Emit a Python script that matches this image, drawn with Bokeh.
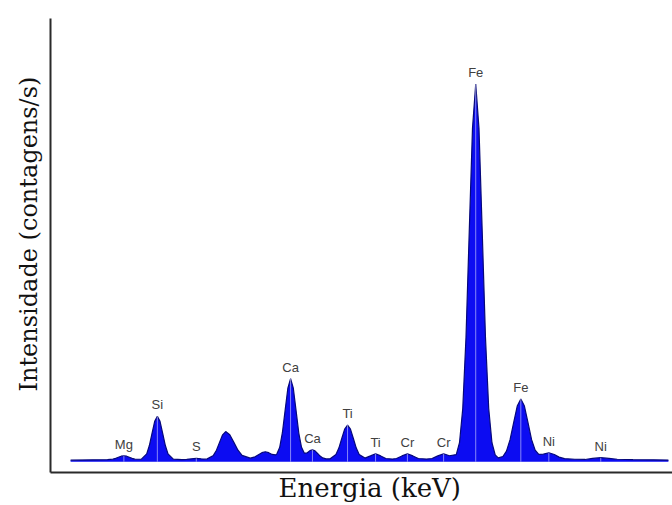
from bokeh.plotting import figure
from bokeh.models import Range1d, FixedTicker, ColumnDataSource
from bokeh.core.properties import value
from bokeh.embed import file_html
from bokeh.resources import INLINE

# Spectrum samples (energy in keV, intensity in counts/s)
energy = [0.47, 0.80, 1.01,
          1.09, 1.13, 1.17, 1.21, 1.25, 1.29, 1.33, 1.37, 1.41, 1.49,
          1.506, 1.584, 1.623, 1.662, 1.701, 1.74, 1.779, 1.818, 1.857, 1.896, 1.974, 2.10,
          2.17, 2.24, 2.31, 2.38, 2.45,
          2.47, 2.56, 2.605, 2.65, 2.695, 2.74, 2.80, 2.86, 2.92, 2.98, 3.10,
          3.17, 3.22, 3.27, 3.32, 3.37, 3.42, 3.47,
          3.49, 3.53, 3.57, 3.61, 3.65, 3.69, 3.73, 3.77, 3.81, 3.85, 3.89, 3.93,
          3.9725, 4.01, 4.0475, 4.085, 4.1225, 4.16, 4.21,
          4.269, 4.354, 4.3965, 4.439, 4.4815, 4.524, 4.5665, 4.609, 4.6515, 4.694, 4.779,
          4.859, 4.934, 5.009, 5.084, 5.18,
          5.24, 5.32, 5.40, 5.48, 5.56, 5.68,
          5.76, 5.845, 5.93, 6.015,
          6.115, 6.1625, 6.21, 6.2575, 6.305, 6.3525, 6.40, 6.4475, 6.495, 6.5425, 6.59, 6.6375, 6.685, 6.73,
          6.7975, 6.85, 6.9025, 6.955, 7.0075, 7.06, 7.1125, 7.165, 7.2175, 7.27, 7.3225,
          7.39, 7.47, 7.55, 7.62, 7.70, 7.85, 8.00,
          8.11, 8.23, 8.35, 8.47, 8.70, 9.00, 9.22]
counts = [15, 18, 20,
          25, 33, 44, 55, 60, 55, 44, 33, 25, 24,
          25, 79, 163, 287, 408, 460, 408, 287, 163, 79, 25, 21,
          23, 29, 34, 29, 25,
          28, 63, 116, 195, 272, 305, 272, 195, 116, 63, 35,
          49, 70, 91, 100, 91, 73, 68,
          79, 143, 293, 519, 744, 840, 744, 519, 290, 145, 87, 88,
          111, 120, 109, 83, 56, 38, 28,
          29, 72, 137, 234, 329, 370, 329, 234, 137, 72, 36,
          58, 80, 58, 32, 26,
          32, 58, 80, 58, 32, 26,
          32, 58, 80, 60,
          72, 192, 539, 1260, 2330, 3377, 3825, 3377, 2330, 1260, 539, 192, 68, 38,
          52, 107, 223, 395, 563, 635, 563, 395, 223, 116, 74,
          76, 90, 72, 46, 30, 24, 22,
          33, 40, 33, 24, 20, 18, 16]

# Labelled peaks
peak_label = ["Mg", "Si", "S", "Ca", "Ca", "Ti", "Ti", "Cr", "Cr", "Fe", "Fe", "Ni", "Ni"]
peak_energy = [1.25, 1.74, 2.31, 3.69, 4.01, 4.524, 4.934, 5.40, 5.93, 6.40, 7.06, 7.47, 8.23]
peak_count = [60, 460, 34, 840, 120, 370, 80, 80, 80, 3825, 635, 90, 40]

p = figure(width=672, height=505, output_backend="svg", toolbar_location=None,
           x_range=Range1d(0.176, 9.28), y_range=Range1d(-110, 4490),
           min_border_left=50, min_border_right=0, min_border_top=18, min_border_bottom=27)
p.outline_line_color = None
p.xgrid.visible = False
p.ygrid.visible = False
p.background_fill_color = "white"
p.border_fill_color = "white"

for ax in (p.xaxis[0], p.yaxis[0]):
    ax.ticker = FixedTicker(ticks=[])
    ax.major_tick_line_color = None
    ax.minor_tick_line_color = None
    ax.axis_line_color = "#2a2a2a"
    ax.axis_line_width = 2
    ax.axis_label_text_font = "DejaVu Serif"
    ax.axis_label_text_font_style = "normal"
    ax.axis_label_text_color = "#111111"

p.xaxis.axis_label = "\u00a0\u00a0Energia (keV)"
p.xaxis.axis_label_text_font_size = "26px"
p.xaxis.axis_label_standoff = 0
p.yaxis.axis_label = "\u00a0\u00a0\u00a0Intensidade (contagens/s)"
p.yaxis.axis_label_text_font_size = "24px"
p.yaxis.axis_label_standoff = 8

src = ColumnDataSource(dict(e=energy, c=counts))
p.varea(x="e", y1=0, y2="c", source=src, fill_color="#0c0cf2")
p.line(x="e", y="c", source=src, line_color="#06087a", line_width=1.2)

psrc = ColumnDataSource(dict(e=peak_energy, c=peak_count, t=peak_label, z=[0] * len(peak_energy)))
p.segment(x0="e", y0="z", x1="e", y1="c", source=psrc, line_color="white", line_alpha=0.5, line_width=1)
p.text(x="e", y="c", text="t", source=psrc, text_align="center", text_baseline="bottom",
       y_offset=-4, text_font=value("Liberation Sans"), text_font_size="13px", text_color="#404040")

open("out.html", "w").write(file_html(p, INLINE))
